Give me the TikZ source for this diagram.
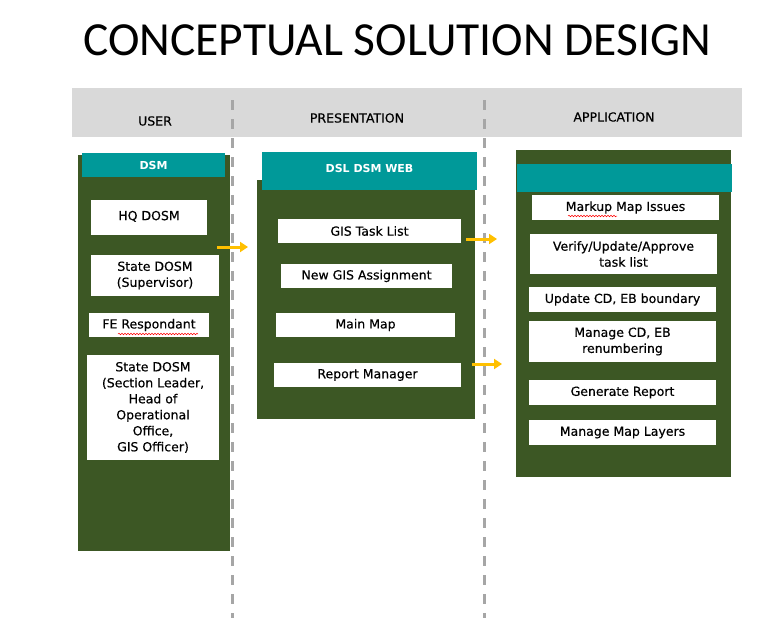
\documentclass[tikz,border=0pt]{standalone}
\usepackage{fontspec}
\setmainfont{DejaVu Sans}
\newfontfamily\titlefont{Carlito}
\newfontfamily\itemfont[FakeBold=0.4]{DejaVu Sans}
\usetikzlibrary{arrows.meta,decorations.pathmorphing}
\definecolor{panelgreen}{RGB}{60,87,36}
\definecolor{headteal}{RGB}{0,153,153}
\definecolor{bargray}{RGB}{217,217,217}
\definecolor{dashgray}{RGB}{166,166,166}
\definecolor{arrowgold}{RGB}{255,192,0}
\begin{document}
\begin{tikzpicture}
    [x=1pt, y=-1pt,
     panel/.style={fill=panelgreen, inner sep=0pt},
     head/.style={fill=headteal, text=white, inner sep=0pt,
       font=\bfseries\fontsize{11}{13}\selectfont},
     item/.style={fill=white, inner sep=0pt, align=center,
       font=\itemfont\fontsize{12.5}{16}\selectfont},
     lanelabel/.style={font=\itemfont\fontsize{12.5}{15}\selectfont},
     lane/.style={dashgray, line width=3pt, dash pattern=on 10pt off 9pt},
     flow/.style={arrowgold, line width=3pt, -{Triangle[length=8pt,width=10pt]}},
     spell/.style={red, line width=0.5pt, decorate,
       decoration={snake, amplitude=0.8pt, segment length=3pt}}]
    \useasboundingbox[fill=white] (0,0) rectangle (775,618);

    % title and lane header
    \node[font=\titlefont\fontsize{47.5}{55}\selectfont] (title) at (397,40) {CONCEPTUAL SOLUTION DESIGN};
    \fill[bargray] (72,88) rectangle (742,137);
    \node[lanelabel] (user) at (155,121) {USER};
    \node[lanelabel] (pres) at (357,118) {PRESENTATION};
    \node[lanelabel] (app) at (614,117) {APPLICATION};

    % user lane
    \node[panel, minimum width=152pt, minimum height=396pt] (dsm) at (154,353) {};
    \node[head, minimum width=143pt, minimum height=24pt] (dsmhead) at (153.5,165) {DSM};
    \node[item, minimum width=116pt, minimum height=35pt] (hq) at (149,217.5) {\raisebox{4pt}{HQ DOSM}};
    \node[item, minimum width=128pt, minimum height=41pt] (statesup) at (155,275.5) {State DOSM\\(Supervisor)};
    \node[item, minimum width=120pt, minimum height=24pt] (fe) at (149,325) {FE Respondant};
    \node[item, minimum width=132pt, minimum height=105pt] (statesec) at (153,407.5)
      {State DOSM\\(Section Leader,\\Head of\\Operational\\Office,\\GIS Officer)};

    % presentation lane
    \node[panel, minimum width=218pt, minimum height=239pt] (web) at (366,299.5) {};
    \node[head, minimum width=215pt, minimum height=38pt] (webhead) at (369.5,171) {\raisebox{6pt}{DSL DSM WEB}};
    \node[item, minimum width=183pt, minimum height=24pt] (tasklist) at (369.5,231) {GIS Task List};
    \node[item, minimum width=171pt, minimum height=24pt] (assign) at (366.5,276) {New GIS Assignment};
    \node[item, minimum width=179pt, minimum height=24pt] (mainmap) at (365.5,325) {Main Map};
    \node[item, minimum width=187pt, minimum height=24pt] (report) at (367.5,375) {Report Manager};

    % application lane
    \node[panel, minimum width=215pt, minimum height=327pt] (appbox) at (623.5,313.5) {};
    \node[head, minimum width=215pt, minimum height=28pt] (apphead) at (624.5,178) {};
    \node[item, minimum width=187pt, minimum height=25pt] (markup) at (625.5,207.5) {Markup Map Issues};
    \node[item, minimum width=187pt, minimum height=40pt] (verify) at (623.5,254) {Verify/Update/Approve\\task list};
    \node[item, minimum width=187pt, minimum height=25pt] (boundary) at (622.5,299.5) {Update CD, EB boundary};
    \node[item, minimum width=187pt, minimum height=41pt] (renum) at (622.5,341.5) {Manage CD, EB\\renumbering};
    \node[item, minimum width=187pt, minimum height=25pt] (genreport) at (622.5,392.5) {Generate Report};
    \node[item, minimum width=187pt, minimum height=25pt] (layers) at (622.5,432.5) {Manage Map Layers};

    % spelling marks
    \draw[spell] (118,334) -- (198,334);
    \draw[spell] (568,216) -- (617,216);

    % lane separators
    \foreach \x in {232,484}
      \draw[lane] (\x,100) -- (\x,618);

    % flow arrows
    \coordinate (a1) at (217,247);
    \coordinate (b1) at (248,247);
    \coordinate (a2) at (466,239);
    \coordinate (b2) at (497,239);
    \coordinate (a3) at (472,364);
    \coordinate (b3) at (502,364);
    \draw[flow] (a1) -- (b1);
    \draw[flow] (a2) -- (b2);
    \draw[flow] (a3) -- (b3);
\end{tikzpicture}
\end{document}
